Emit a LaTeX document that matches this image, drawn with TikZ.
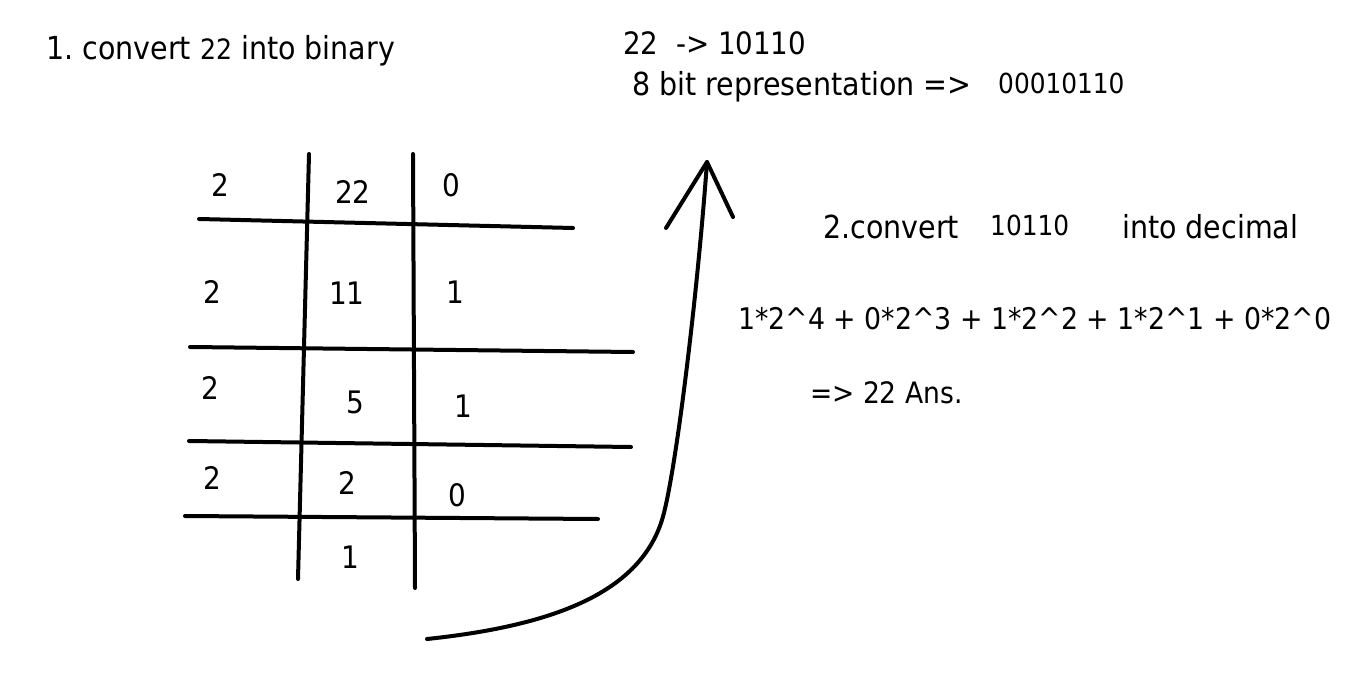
\documentclass[tikz,border=0pt]{standalone}
\usepackage{fontspec}
\setmainfont{DejaVu Sans Condensed}
\tikzset{txtbig/.style={font=\fontsize{31.7}{38}\selectfont,inner sep=0pt}}
\tikzset{txtmid/.style={font=\fontsize{30.8}{36}\selectfont,inner sep=0pt}}
\tikzset{txtsmall/.style={font=\fontsize{27.6}{32}\selectfont,inner sep=0pt}}
\tikzset{txtcell/.style={font=\fontsize{31}{36}\selectfont,inner sep=0pt}}
\tikzset{pen/.style={line width=4pt,line cap=round,line join=round}}

\begin{document}
\begin{tikzpicture}[x=1pt,y=-1pt]
      \useasboundingbox (0,0) rectangle (1348,684);

      % step 1 heading and results
      \node[txtbig,anchor=base west] at (46,60) (head1) {1.\ convert {\fontsize{28}{32}\selectfont 22} into binary};
      \node[txtmid,anchor=base west] at (623,55) (res) {22\ \ -> 10110};
      \node[txtbig,anchor=base west] at (632,96) (bits) {8 bit representation =>};
      \node[txtsmall,anchor=base west] at (998,94) (byte) {00010110};

      % step 2
      \node[txtbig,anchor=base west] at (823,239) (head2) {2.convert};
      \node[txtsmall,anchor=base west] at (990,236) (num) {10110};
      \node[txtbig,anchor=base west] at (1122,239) (head2b) {into decimal};
      \node[txtbig,anchor=base west,font=\fontsize{29.8}{36}\selectfont] at (738,330) (sum) {1*2\^{}4 + 0*2\^{}3 + 1*2\^{}2 + 1*2\^{}1 + 0*2\^{}0};
      \node[txtbig,anchor=base west,font=\fontsize{29.5}{36}\selectfont] at (810,403) (ans) {=> 22 Ans.};

      % division table
      \draw[pen] (199,219) -- (573,228);
      \draw[pen] (190,347) -- (633,352);
      \draw[pen] (189,441) -- (631,447);
      \draw[pen] (185,516) -- (598,519);
      \draw[pen] (309,154) -- (298,579);
      \draw[pen] (413,154) -- (415,588);

      \node[txtcell] at (220,185) (d1) {2};
      \node[txtcell] at (212,292) (d2) {2};
      \node[txtcell] at (210,388) (d3) {2};
      \node[txtcell] at (212,478) (d4) {2};

      \node[txtcell] at (353,192) (q1) {22};
      \node[txtcell] at (347,293) (q2) {11};
      \node[txtcell] at (355,402) (q3) {5};
      \node[txtcell] at (347,483) (q4) {2};
      \node[txtcell] at (350,557) (q5) {1};

      \node[txtcell] at (451,185) (r1) {0};
      \node[txtcell] at (455,292) (r2) {1};
      \node[txtcell] at (463,406) (r3) {1};
      \node[txtcell] at (457,495) (r4) {0};

      % read the remainders upwards
      \coordinate (foot) at (427,639);
      \coordinate (tip) at (707,162);
      \draw[pen] (foot) .. controls (560,625) and (640,590) .. (662,520) .. controls (675,478) and (697,300) .. (tip);
      \draw[pen] (666,228) -- (tip) -- (733,217);
\end{tikzpicture}
\end{document}
